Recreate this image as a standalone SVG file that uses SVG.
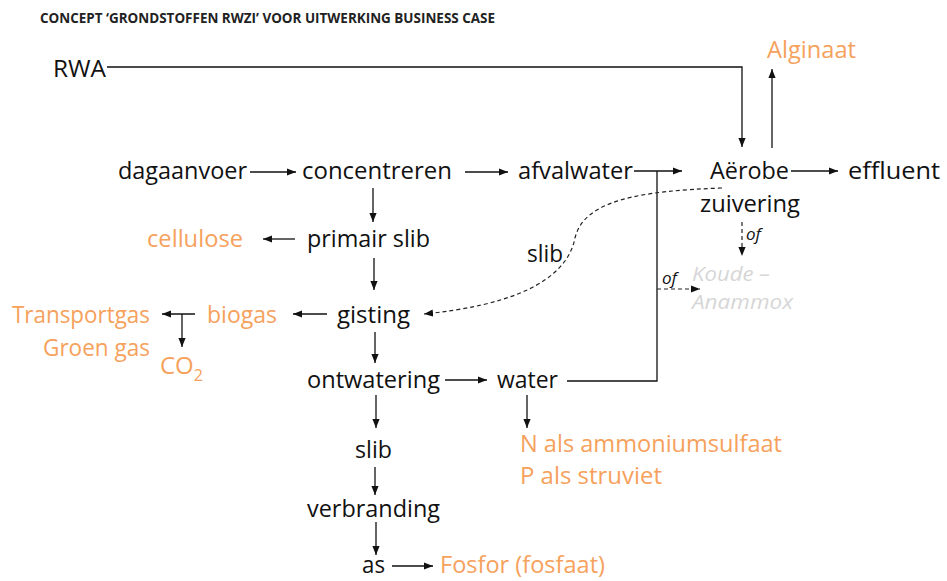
<svg xmlns="http://www.w3.org/2000/svg" width="947" height="581" viewBox="0 0 947 581">
  <style>
    text { font-family: "Open Sans", "Noto Sans", "Liberation Sans", sans-serif; font-size: 24px; fill: #111; }
    .title { font-size: 14px; font-weight: bold; fill: #222; }
    .prod { fill: #F6A15C; }
    .alt { fill: #D6D6D6; font-style: italic; font-size: 20px; }
    .of { font-style: italic; font-size: 17px; }
    .ln { fill: none; stroke: #111; stroke-width: 1.3; }
    .dash { fill: none; stroke: #222; stroke-width: 1.2; stroke-dasharray: 4 3; }
  </style>
  <defs>
    <marker id="ah" viewBox="0 0 10 10" refX="10" refY="5" markerWidth="9" markerHeight="9" markerUnits="userSpaceOnUse" orient="auto">
      <path d="M0,1 L10,5 L0,9 Z" fill="#111"/>
    </marker>
  </defs>
  <rect width="947" height="581" fill="#fff"/>

  <text class="title" x="40" y="23" textLength="455" lengthAdjust="spacingAndGlyphs">CONCEPT ‘GRONDSTOFFEN RWZI’ VOOR UITWERKING BUSINESS CASE</text>

  <g id="connectors">
    <!-- RWA into aeration -->
    <polyline class="ln" points="107,67 742,67 742,147" marker-end="url(#ah)"/>
    <!-- aeration up to alginate -->
    <line class="ln" x1="772" y1="148" x2="772" y2="69" marker-end="url(#ah)"/>
    <line class="ln" x1="250" y1="172" x2="296" y2="172" marker-end="url(#ah)"/>
    <line class="ln" x1="465" y1="172" x2="508" y2="172" marker-end="url(#ah)"/>
    <line class="ln" x1="634" y1="171" x2="682" y2="171" marker-end="url(#ah)"/>
    <line class="ln" x1="791" y1="171" x2="838" y2="171" marker-end="url(#ah)"/>
    <!-- return water riser -->
    <polyline class="ln" points="567,381 657,381 657,171"/>
    <line class="dash" x1="657" y1="289" x2="700" y2="289" marker-end="url(#ah)"/>
    <line class="dash" x1="742" y1="222" x2="742" y2="256" marker-end="url(#ah)"/>
    <!-- sludge from aeration to digestion -->
    <path class="dash" d="M722,188 C640,191 584,200 575,238 C566,284 505,306 424,314" marker-end="url(#ah)"/>
    <line class="ln" x1="373" y1="188" x2="373" y2="222" marker-end="url(#ah)"/>
    <line class="ln" x1="295" y1="239" x2="263" y2="239" marker-end="url(#ah)"/>
    <line class="ln" x1="374" y1="258" x2="374" y2="290" marker-end="url(#ah)"/>
    <line class="ln" x1="327" y1="314" x2="293" y2="314" marker-end="url(#ah)"/>
    <line class="ln" x1="195" y1="314" x2="162" y2="314" marker-end="url(#ah)"/>
    <line class="ln" x1="182" y1="314" x2="182" y2="347" marker-end="url(#ah)"/>
    <line class="ln" x1="375" y1="332" x2="375" y2="363" marker-end="url(#ah)"/>
    <line class="ln" x1="445" y1="380" x2="487" y2="380" marker-end="url(#ah)"/>
    <line class="ln" x1="527" y1="395" x2="527" y2="428" marker-end="url(#ah)"/>
    <line class="ln" x1="376" y1="395" x2="376" y2="428" marker-end="url(#ah)"/>
    <line class="ln" x1="375" y1="467" x2="375" y2="495" marker-end="url(#ah)"/>
    <line class="ln" x1="376" y1="522" x2="376" y2="555" marker-end="url(#ah)"/>
    <line class="ln" x1="392" y1="566" x2="433" y2="566" marker-end="url(#ah)"/>
  </g>

  <g id="rwa"><text x="53" y="77" textLength="53" lengthAdjust="spacingAndGlyphs">RWA</text></g>
  <g id="alginaat"><text class="prod" x="767" y="58" textLength="89" lengthAdjust="spacingAndGlyphs">Alginaat</text></g>
  <g id="dagaanvoer"><text x="118" y="179" textLength="129" lengthAdjust="spacingAndGlyphs">dagaanvoer</text></g>
  <g id="concentreren"><text x="302" y="179" textLength="150" lengthAdjust="spacingAndGlyphs">concentreren</text></g>
  <g id="afvalwater"><text x="518" y="179" textLength="115" lengthAdjust="spacingAndGlyphs">afvalwater</text></g>
  <g id="aerobe">
    <text x="710" y="179" textLength="79" lengthAdjust="spacingAndGlyphs">Aërobe</text>
    <text x="700" y="212" textLength="100" lengthAdjust="spacingAndGlyphs">zuivering</text>
  </g>
  <g id="effluent"><text x="848" y="179" textLength="92" lengthAdjust="spacingAndGlyphs">effluent</text></g>
  <g id="of-labels">
    <text class="of" x="746" y="240">of</text>
    <text class="of" x="662" y="284">of</text>
  </g>
  <g id="anammox">
    <text class="alt" x="692" y="281" textLength="78" lengthAdjust="spacingAndGlyphs">Koude –</text>
    <text class="alt" x="692" y="309" textLength="101" lengthAdjust="spacingAndGlyphs">Anammox</text>
  </g>
  <g id="primair-slib"><text x="307" y="247" textLength="123" lengthAdjust="spacingAndGlyphs">primair slib</text></g>
  <g id="cellulose"><text class="prod" x="147" y="247" textLength="96" lengthAdjust="spacingAndGlyphs">cellulose</text></g>
  <g id="slib-retour"><text x="527" y="262" textLength="36" lengthAdjust="spacingAndGlyphs">slib</text></g>
  <g id="gisting"><text x="337" y="323" textLength="73" lengthAdjust="spacingAndGlyphs">gisting</text></g>
  <g id="biogas"><text class="prod" x="207" y="323" textLength="70" lengthAdjust="spacingAndGlyphs">biogas</text></g>
  <g id="transportgas">
    <text class="prod" x="12" y="323" textLength="138" lengthAdjust="spacingAndGlyphs">Transportgas</text>
    <text class="prod" x="43" y="356" textLength="107" lengthAdjust="spacingAndGlyphs">Groen gas</text>
  </g>
  <g id="co2"><text class="prod" x="160" y="374">CO<tspan font-size="16" dy="7">2</tspan></text></g>
  <g id="ontwatering"><text x="307" y="388" textLength="133" lengthAdjust="spacingAndGlyphs">ontwatering</text></g>
  <g id="water"><text x="497" y="388" textLength="61" lengthAdjust="spacingAndGlyphs">water</text></g>
  <g id="nutrienten">
    <text class="prod" x="520" y="452" textLength="262" lengthAdjust="spacingAndGlyphs">N als ammoniumsulfaat</text>
    <text class="prod" x="520" y="484" textLength="142" lengthAdjust="spacingAndGlyphs">P als struviet</text>
  </g>
  <g id="slib"><text x="355" y="458" textLength="37" lengthAdjust="spacingAndGlyphs">slib</text></g>
  <g id="verbranding"><text x="307" y="517" textLength="133" lengthAdjust="spacingAndGlyphs">verbranding</text></g>
  <g id="as"><text x="362" y="573" textLength="23" lengthAdjust="spacingAndGlyphs">as</text></g>
  <g id="fosfor"><text class="prod" x="440" y="573" textLength="165" lengthAdjust="spacingAndGlyphs">Fosfor (fosfaat)</text></g>
</svg>
